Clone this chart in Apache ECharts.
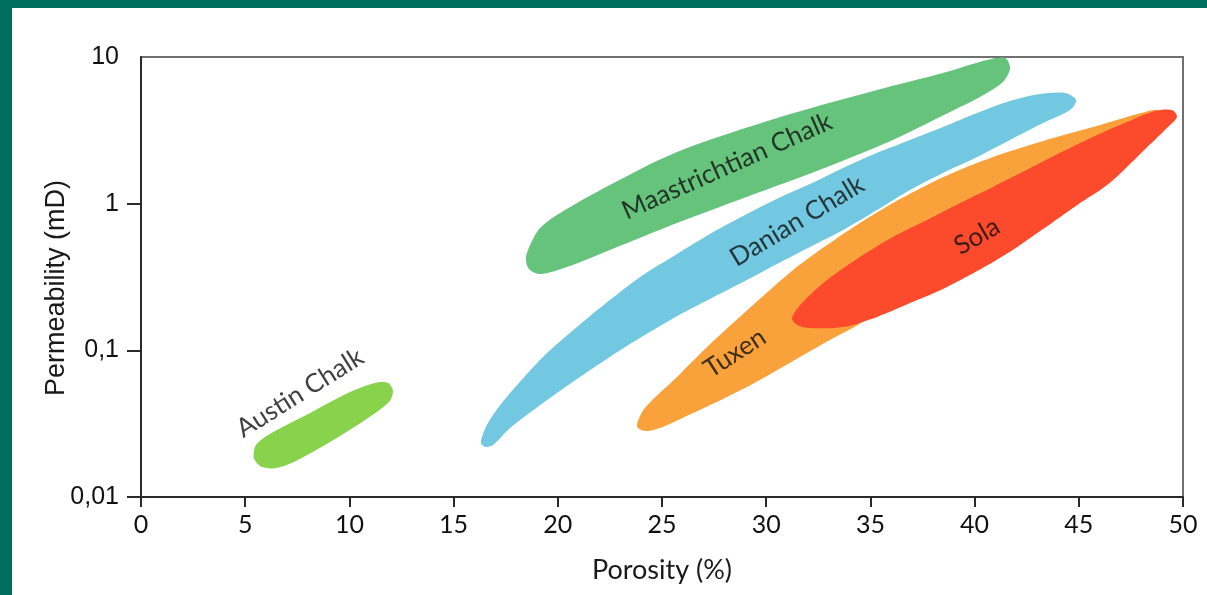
<!DOCTYPE html>
<html>
<head>
<meta charset="utf-8">
<title>Chalk porosity vs permeability</title>
<script src="https://cdn.jsdelivr.net/npm/echarts@6/dist/echarts.min.js"></script>
<style>
  html, body { margin: 0; padding: 0; background: #ffffff; }
  #chart { width: 1207px; height: 595px; }
</style>
</head>
<body>
<div id="chart"></div>
<script>
// Axis ticks
const xTicks = [0, 5, 10, 15, 20, 25, 30, 35, 40, 45, 50];
const yTicks = [0.01, 0.1, 1, 10];
const yTickLabels = ['0,01', '0,1', '1', '10'];
const yTickMarks = [0.01, 0.1, 1];

// Field outlines: [porosity (%), permeability (mD)]
const maastrichtianChalk = [
  [18.47, 0.426], [18.67, 0.522], [19.15, 0.682], [20.11, 0.864], [22.50, 1.34],
  [25.72, 2.25], [30.52, 3.84], [35.32, 5.96], [38.48, 7.78], [40.60, 9.54],
  [41.46, 9.84], [41.70, 8.41], [41.36, 6.75], [40.26, 5.34], [39.30, 4.56],
  [36.08, 2.72], [32.92, 1.78], [29.70, 1.20], [25.72, 0.738], [22.50, 0.483],
  [20.44, 0.370], [19.15, 0.331], [18.62, 0.358]
];
const danianChalk = [
  [16.55, 0.0300], [16.31, 0.0236], [16.50, 0.0220], [16.89, 0.0226], [17.71, 0.0295],
  [19.29, 0.0437], [20.92, 0.0637], [22.50, 0.0901], [24.09, 0.125], [25.72, 0.171],
  [27.30, 0.224], [28.89, 0.292], [30.52, 0.388], [32.10, 0.506], [33.69, 0.661],
  [35.32, 0.905], [36.90, 1.24], [38.48, 1.62], [40.12, 2.08], [41.70, 2.72],
  [43.28, 3.55], [44.58, 4.35], [44.87, 5.09], [44.34, 5.68], [43.14, 5.59],
  [41.70, 5.01], [40.12, 4.15], [38.48, 3.33], [36.90, 2.72], [35.32, 2.22],
  [33.69, 1.75], [32.10, 1.36], [30.52, 1.08], [28.89, 0.824], [27.30, 0.621],
  [25.72, 0.454], [24.09, 0.326], [22.50, 0.220], [20.92, 0.144], [19.29, 0.0901],
  [17.71, 0.0512], [16.99, 0.0380]
];
const tuxen = [
  [23.80, 0.0305], [24.18, 0.0404], [25.72, 0.0658], [27.30, 0.110], [28.89, 0.177],
  [31.29, 0.353], [32.92, 0.522], [34.50, 0.738], [36.08, 1.01], [37.72, 1.34],
  [39.30, 1.70], [40.88, 2.08], [42.51, 2.47], [44.10, 2.89], [45.68, 3.33],
  [46.98, 3.78], [48.18, 4.22], [48.80, 4.35], [48.90, 3.84], [47.94, 2.94],
  [46.02, 1.84], [43.62, 1.06], [41.22, 0.620], [38.82, 0.373], [36.42, 0.230],
  [34.50, 0.152], [32.92, 0.115], [31.29, 0.0846], [29.70, 0.0628], [28.12, 0.0481],
  [26.49, 0.0374], [24.90, 0.0295], [24.18, 0.0282]
];
const sola = [
  [31.24, 0.166], [31.77, 0.214], [32.92, 0.302], [34.50, 0.433], [36.08, 0.593],
  [37.72, 0.774], [39.30, 1.01], [40.88, 1.30], [42.51, 1.70], [44.10, 2.22],
  [45.68, 2.85], [47.31, 3.60], [48.66, 4.28], [49.47, 4.35], [49.71, 3.90],
  [49.23, 3.28], [48.08, 2.28], [46.50, 1.39], [44.91, 0.977], [43.28, 0.671],
  [41.70, 0.470], [40.12, 0.347], [38.48, 0.262], [36.90, 0.210], [35.32, 0.169],
  [33.69, 0.144], [32.10, 0.142], [31.48, 0.149]
];
const austinChalk = [
  [5.52, 0.0226], [6.19, 0.0269], [8.11, 0.0374], [10.03, 0.0520], [11.23, 0.0599],
  [11.85, 0.0599], [12.09, 0.0528], [11.90, 0.0444], [10.75, 0.0335], [9.07, 0.0237],
  [7.53, 0.0179], [6.53, 0.0158], [5.81, 0.0160], [5.42, 0.0184]
];

// Field names and where their names sit: [porosity (%), permeability (mD)]
const fieldNames = ['Maastrichtian Chalk', 'Danian Chalk', 'Tuxen', 'Sola', 'Austin Chalk'];
const labelPoints = [[28.12, 1.80], [31.48, 0.760], [28.50, 0.0959], [40.12, 0.600], [7.63, 0.0512]];

// Styles
const fieldOutlines = [maastrichtianChalk, danianChalk, tuxen, sola, austinChalk];
const fieldColors = ['#65c37c', '#72c8e0', '#f9a23b', '#fc4a2c', '#88d24c'];
const labelAngles = [24, 31, 33, 30, 32];
const gillLike = 'Lato, "Open Sans", sans-serif';
const arialLike = '"Liberation Sans", Arial, sans-serif';

function fieldSeries(name, outline, color, z) {
  return {
    type: 'custom',
    name: name,
    coordinateSystem: 'cartesian2d',
    silent: true,
    z: z,
    data: [outline[0]],
    renderItem: function (params, api) {
      return {
        type: 'polygon',
        shape: { points: outline.map(function (p) { return api.coord(p); }), smooth: 0.3 },
        style: { fill: color }
      };
    }
  };
}

const series = fieldOutlines.map(function (o, i) {
  return fieldSeries(fieldNames[i], o, fieldColors[i], 2 + i);
});

series.push({
  type: 'scatter',
  name: 'names',
  silent: true,
  z: 10,
  symbolSize: 0,
  data: labelPoints.map(function (p, i) {
    return { name: fieldNames[i], value: p, label: { rotate: labelAngles[i] } };
  }),
  label: {
    show: true,
    position: 'inside',
    formatter: function (p) { return p.name; },
    fontFamily: gillLike,
    fontSize: 26,
    color: '#101010'
  }
});

const chart = echarts.init(document.getElementById('chart'), null, { renderer: 'canvas' });
chart.setOption({
  animation: false,
  backgroundColor: '#ffffff',
  graphic: [
    { type: 'rect', left: 0, top: 0, shape: { width: 12, height: 595 }, style: { fill: '#006e5f' }, z: 100 },
    { type: 'rect', left: 0, top: 0, shape: { width: 1207, height: 8 }, style: { fill: '#006e5f' }, z: 100 }
  ],
  grid: {
    left: 141, top: 57, right: 24, bottom: 98,
    show: true, borderColor: '#707070', borderWidth: 2, backgroundColor: 'transparent'
  },
  xAxis: {
    type: 'value',
    min: xTicks[0], max: xTicks[xTicks.length - 1], interval: 5,
    name: 'Porosity (%)',
    nameLocation: 'middle',
    nameGap: 60,
    nameTextStyle: { fontFamily: gillLike, fontSize: 27, color: '#1a1a1a' },
    splitLine: { show: false },
    axisLine: { onZero: false, lineStyle: { color: '#2a2a2a', width: 2 } },
    axisTick: { show: true, inside: false, length: 10, lineStyle: { color: '#2a2a2a', width: 2 } },
    axisLabel: { margin: 15, fontFamily: gillLike, fontSize: 25, color: '#111111' }
  },
  yAxis: {
    type: 'log',
    logBase: 10,
    min: yTicks[0], max: yTicks[yTicks.length - 1],
    name: 'Permeability (mD)',
    nameLocation: 'middle',
    nameRotate: 90,
    nameGap: 84,
    nameMoveOverlap: false,
    nameTextStyle: {
      fontFamily: arialLike, fontSize: 27, color: '#1a1a1a',
      verticalAlign: 'middle', padding: [0, 22, 0, 0]
    },
    splitLine: { show: false },
    axisLine: { onZero: false, lineStyle: { color: '#2a2a2a', width: 2 } },
    axisTick: {
      show: true, inside: false, length: 14,
      customValues: yTickMarks,
      lineStyle: { color: '#2a2a2a', width: 2 }
    },
    axisLabel: {
      margin: 22,
      fontFamily: arialLike,
      fontSize: 25,
      color: '#111111',
      padding: [0, 0, 6, 0],
      formatter: function (v) {
        const i = yTicks.findIndex(function (t) { return Math.abs(Math.log10(t) - Math.log10(v)) < 1e-6; });
        return i >= 0 ? yTickLabels[i] : '';
      }
    }
  },
  series: series
});
</script>
</body>
</html>
